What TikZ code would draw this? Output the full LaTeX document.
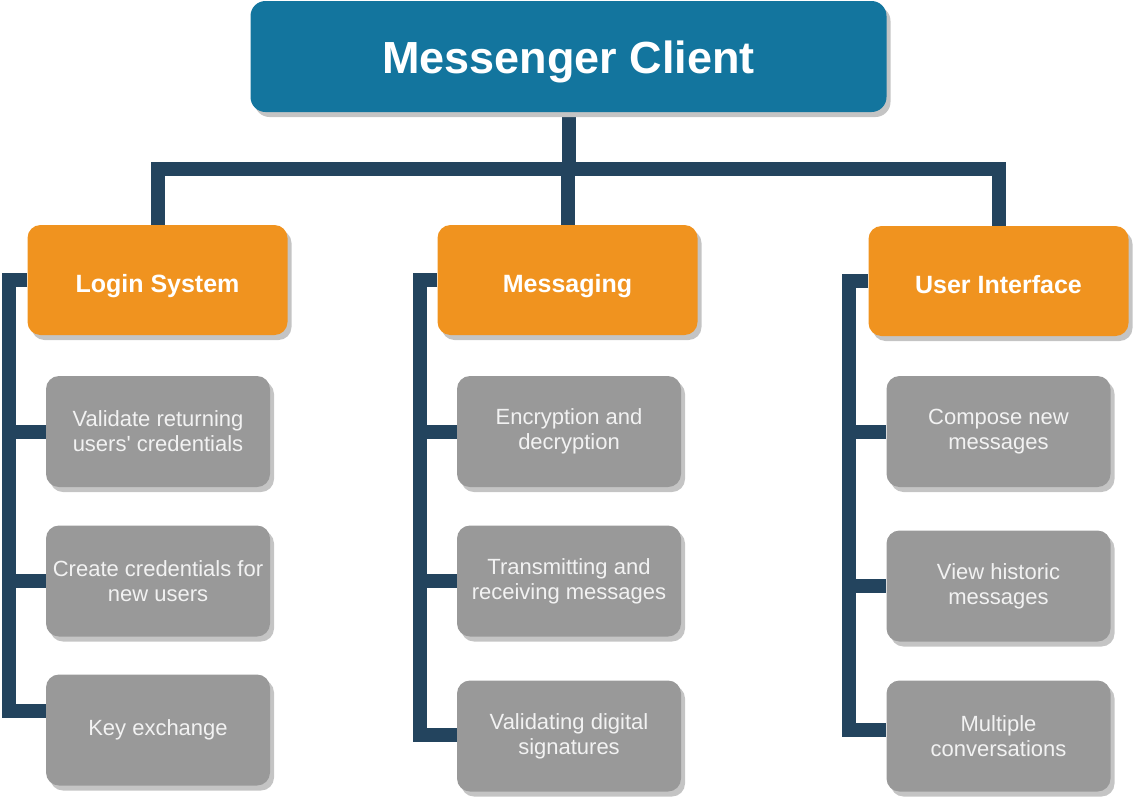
\documentclass[tikz,border=0pt]{standalone}
\usepackage{fontspec}
\setmainfont{Liberation Sans}
\usetikzlibrary{shadows,backgrounds}
\definecolor{topblue}{HTML}{13759E}
\definecolor{orng}{HTML}{F0931F}
\definecolor{grybox}{HTML}{999999}
\definecolor{navy}{HTML}{23445E}
\definecolor{shad}{HTML}{C4C4C4}
\tikzset{
  boxbase/.style={rounded corners=13pt, inner sep=0pt, align=center,
    drop shadow={shadow xshift=4pt, shadow yshift=-5pt, fill=shad, opacity=1}},
  topbox/.style={boxbase, rounded corners=15pt, fill=topblue, text=white,
    minimum width=636pt, minimum height=111pt,
    text height=34pt, text depth=0pt,
    font=\fontsize{45}{50}\selectfont\bfseries},
  catbox/.style={boxbase, fill=orng, text=white,
    minimum width=260pt, minimum height=110pt,
    text height=24pt, text depth=0pt,
    font=\fontsize{25}{30}\selectfont\bfseries},
  itembox/.style={boxbase, fill=grybox, text=white!95!black,
    minimum width=224pt, minimum height=111pt,
    font=\fontsize{22}{25}\selectfont},
  conn/.style={draw=navy, line width=14pt, line join=miter, line cap=butt}
}
\begin{document}
\begin{tikzpicture}[x=1pt,y=-1pt]
\useasboundingbox (0,0) rectangle (1134,798);

\node[topbox] (top) at (568.5,56.5) {Messenger Client};

\node[catbox] (login) at (157.5,280) {Login System};
\node[catbox] (msg) at (567.5,280) {Messaging};
\node[catbox] (ui) at (998.5,281) {User Interface};

\node[itembox] (l1) at (158,431.5) {Validate returning\\users\textquotesingle\ credentials};
\node[itembox] (l2) at (158,581) {Create credentials for\\new users};
\node[itembox] (l3) at (158,730) {Key exchange};

\node[itembox] (m1) at (569,431.5) {Encryption and\\decryption};
\node[itembox] (m2) at (569,581) {Transmitting and\\receiving messages};
\node[itembox] (m3) at (569,736) {Validating digital\\signatures};

\node[itembox] (u1) at (998.5,431.5) {Compose new\\messages};
\node[itembox] (u2) at (998.5,586) {View historic\\messages};
\node[itembox] (u3) at (998.5,736) {Multiple\\conversations};

\coordinate (barL) at (157.5,169);
\coordinate (lt) at (8.5,280);
\coordinate (lb) at (8.5,711);
\coordinate (mt) at (420,280);
\coordinate (mb) at (420,735);
\coordinate (ut) at (849,281);
\coordinate (ub) at (849,730);

\begin{scope}[on background layer]
  % top trunk and bar
  \draw[conn] (top.south) -- (top.south |- barL);
  \draw[conn] (login.north) -- (login.north |- barL) -- (ui.north |- barL) -- (ui.north);
  \draw[conn] (msg.north) -- (msg.north |- barL);
  % login column
  \draw[conn] (login.west) -- (lt) -- (lb) -- (lb -| l3.west);
  \draw[conn] (l1.west -| lt) -- (l1.west);
  \draw[conn] (l2.west -| lt) -- (l2.west);
  % messaging column
  \draw[conn] (msg.west) -- (mt) -- (mb) -- (mb -| m3.west);
  \draw[conn] (m1.west -| mt) -- (m1.west);
  \draw[conn] (m2.west -| mt) -- (m2.west);
  % ui column
  \draw[conn] (ui.west) -- (ut) -- (ub) -- (ub -| u3.west);
  \draw[conn] (u1.west -| ut) -- (u1.west);
  \draw[conn] (u2.west -| ut) -- (u2.west);
\end{scope}
\end{tikzpicture}
\end{document}
